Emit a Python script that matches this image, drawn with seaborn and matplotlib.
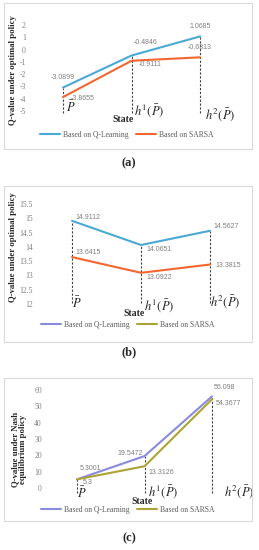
import numpy as np
import pandas as pd
import matplotlib
matplotlib.use('Agg')
import matplotlib.pyplot as plt
import matplotlib.transforms as mtransforms
from matplotlib.lines import Line2D
from matplotlib.patches import Rectangle
import seaborn as sns

# data
states = [r'$\bar{P}$', r'$h^1(\bar{P})$', r'$h^2(\bar{P})$']
series_names = ['Based on Q-Learning', 'Based on SARSA']

a_qlearning = [-3.0899, -0.4846, 1.0685]
a_sarsa = [-3.8655, -0.9111, -0.6313]
b_qlearning = [14.9112, 14.0651, 14.5627]
b_sarsa = [13.6415, 13.0922, 13.3815]
c_qlearning = [5.3001, 19.5472, 56.098]
c_sarsa = [5.3, 13.3126, 54.3677]

a_yticks = [-5, -4, -3, -2, -1, 0, 1, 2]
b_yticks = [12, 12.5, 13, 13.5, 14, 14.5, 15, 15.5]
c_yticks = [0, 10, 20, 30, 40, 50, 60]

a_ylabel = 'Q-value under optimal policy'
b_ylabel = 'Q-value under optimal policy'
c_ylabel = 'Q-value under Nash\nequilibrium policy'

W, H = 259, 550

sns.set_theme(style='white')
plt.rcParams['font.family'] = ['Liberation Serif', 'DejaVu Serif']
plt.rcParams['mathtext.fontset'] = 'stix'

fig = plt.figure(figsize=(W / 100, H / 100), dpi=100)
fig.patch.set_facecolor('white')
PX = mtransforms.Affine2D().scale(1 / W, -1 / H).translate(0, 1) + fig.transFigure

pal_ab = {series_names[0]: '#4aa8d4', series_names[1]: '#f2662f'}
pal_c = {series_names[0]: '#8a8ae0', series_names[1]: '#ada335'}

panels = [
    dict(q=a_qlearning, s=a_sarsa, yticks=a_yticks, ylabel=a_ylabel, pal=pal_ab, leg_pal=pal_ab,
         box=(4, 3, 252, 149), ax=(30, 15, 245, 120), xref=((0, 63), (2, 200)), yref=((2, 25), (-5, 111)),
         drop=-5.2, ylab_xy=(13, 70), state_xy=(123, 119), leg_xy=(127, 135), cap=('(a)', 163),
         ticks_xy=[(66, 107), (134, 111), (205, 115)],
         q_off=[(0, 10, 'center'), (2, 13, 'left'), (0, 10, 'center')],
         s_off=[(8, -1, 'left'), (7, -4, 'left'), (0, 10, 'center')]),
    dict(q=b_qlearning, s=b_sarsa, yticks=b_yticks, ylabel=b_ylabel, pal=pal_ab, leg_pal=pal_c,
         box=(4, 186, 252, 342), ax=(37, 195, 245, 312), xref=((0, 72), (2, 210)), yref=((15.5, 204), (12, 304)),
         drop=12.05, ylab_xy=(13, 247), state_xy=(134, 313), leg_xy=(128, 325), cap=('(b)', 352),
         ticks_xy=[(72, 303), (144, 306), (210, 302)],
         q_off=[(3, 3, 'left'), (5, -5, 'left'), (3, 4, 'left')],
         s_off=[(3, 5, 'left'), (5, -5, 'left'), (5, -1, 'left')]),
    dict(q=c_qlearning, s=c_sarsa, yticks=c_yticks, ylabel=c_ylabel, pal=pal_c, leg_pal=pal_c,
         box=(4, 378, 252, 521), ax=(46, 382, 248, 496), xref=((0, 77), (2, 212)), yref=((60, 390), (0, 488)),
         drop=-3, ylab_xy=(19, 449), state_xy=(142, 502), leg_xy=(128, 510), cap=('(c)', 538),
         ticks_xy=[(77, 493), (148, 492), (224, 492)],
         q_off=[(3, 11, 'left'), (-2, 3, 'right'), (2, 9, 'left')],
         s_off=[(6, -3, 'left'), (4, -6, 'left'), (4, -4, 'left')]),
]


def fit_limits(ax, box, xref, yref):
    L, T, R, B = box
    (xv0, xp0), (xv1, xp1) = xref
    kx = (xp1 - xp0) / (xv1 - xv0)
    ax.set_xlim(xv0 + (L - xp0) / kx, xv0 + (R - xp0) / kx)
    (yv0, yp0), (yv1, yp1) = yref
    ky = (yp1 - yp0) / (yv1 - yv0)
    ax.set_ylim(yv0 + (B - yp0) / ky, yv0 + (T - yp0) / ky)


for p in panels:
    bx0, by0, bx1, by1 = p['box']
    fig.add_artist(Rectangle((bx0 / W, 1 - by1 / H), (bx1 - bx0) / W, (by1 - by0) / H,
                             transform=fig.transFigure, fill=False, ec='#d9d9d9', lw=0.8))

    L, T, R, B = p['ax']
    ax = fig.add_axes([L / W, 1 - B / H, (R - L) / W, (B - T) / H])
    ax.patch.set_alpha(0)

    df = pd.DataFrame({
        'pos': list(range(len(states))) * 2,
        'value': p['q'] + p['s'],
        'series': [series_names[0]] * len(states) + [series_names[1]] * len(states),
    })
    pos = np.arange(len(states))
    ax.vlines(pos, p['drop'], np.maximum(p['q'], p['s']), colors='#404040',
              linestyles=(0, (2, 1.5)), lw=0.8, zorder=1)
    sns.lineplot(data=df, x='pos', y='value', hue='series', palette=p['pal'],
                 lw=1.5, legend=False, ax=ax, zorder=2)

    for vals, offs in ((p['q'], p['q_off']), (p['s'], p['s_off'])):
        for i, (v, (dx, dy, ha)) in enumerate(zip(vals, offs)):
            ax.annotate(f'{v:g}', xy=(i, v), xytext=(dx, dy), textcoords='offset pixels',
                        ha=ha, va='center', fontsize=5, color='#7f7f7f', family='Liberation Sans')

    fit_limits(ax, p['ax'], p['xref'], p['yref'])
    ax.set_yticks(p['yticks'])
    ax.set_yticklabels([f'{t:g}' for t in p['yticks']])
    ax.set_xticks([])
    ax.set_xlabel('')
    ax.set_ylabel('')
    ax.tick_params(axis='y', length=0, pad=3, labelsize=5.5, labelcolor='#7f7f7f')
    sns.despine(ax=ax, left=True, bottom=True)

    for lab, (tx, ty) in zip(states, p['ticks_xy']):
        ax.text(tx, ty, lab, transform=PX, ha='left', va='center', fontsize=9, color='#262626')

    ax.text(*p['state_xy'], 'State', transform=PX, ha='center', va='center',
            fontsize=7, fontweight='bold', color='#262626')
    ax.text(*p['ylab_xy'], p['ylabel'], transform=PX, ha='center', va='center', rotation=90,
            fontsize=6.3, fontweight='bold', color='#262626', linespacing=1.0)

    handles = [Line2D([], [], color=p['leg_pal'][n], lw=1.5) for n in series_names]
    lx, ly = p['leg_xy']
    ax.legend(handles, series_names, loc='center', bbox_to_anchor=(lx / W, 1 - ly / H),
              bbox_transform=fig.transFigure, ncol=2, frameon=False, fontsize=5.5,
              handlelength=2.6, columnspacing=1.0, handletextpad=0.4, labelcolor='#595959')

    cap, cy = p['cap']
    fig.text(129 / W, 1 - cy / H, cap, ha='center', va='center', fontsize=9, fontweight='bold',
             color='#262626')

fig.savefig('out.png', dpi=100)
